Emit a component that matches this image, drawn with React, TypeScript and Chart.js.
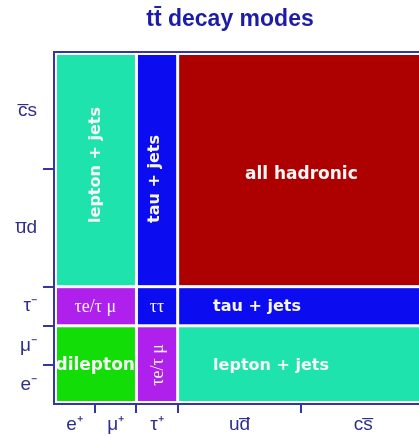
import React, { useEffect, useRef } from "react";
import { Chart, registerables } from "chart.js";

Chart.register(...registerables);

// Columns (t decay: W+ → e+, μ+, τ+, ud̄, cs̄) and rows (t̄ decay: W- → e-, μ-, τ-, ūd, c̄s)
const xTickValues = [0.5, 1, 1.5, 2, 2.5, 3, 4.5, 6, 7.5];
const xTickLabels = ["e\u207A", "", "\u03BC\u207A", "", "\u03C4\u207A", "", "ud\u0305", "", "cs\u0305"];
const yTickValues = [0.5, 1, 1.5, 2, 2.5, 3, 4.5, 6, 7.5];
const yTickLabels = ["e\u207B", "", "\u03BC\u207B", "", "\u03C4\u207B", "", "u\u0305d", "", "c\u0305s"];
const boundaryValues = [1, 2, 3, 6];

// Cells: extents in category units (each lepton = 1, each quark pair = 3 colour combos)
const cellX0 = [0, 2, 3, 0, 2, 3, 0, 2, 3];
const cellX1 = [2, 3, 9, 2, 3, 9, 2, 3, 9];
const cellY0 = [3, 3, 3, 2, 2, 2, 0, 0, 0];
const cellY1 = [9, 9, 9, 3, 3, 3, 2, 2, 2];
const cellNames = [
  "lepton + jets",
  "tau + jets",
  "all hadronic",
  "\u03C4e/\u03C4 \u03BC",
  "\u03C4\u03C4",
  "tau + jets",
  "dilepton",
  "\u03C4e/\u03C4 \u03BC",
  "lepton + jets",
];

// styles
const cellColors = ["#1ee3ac", "#0c0cf0", "#ad0000", "#b020ec", "#0c0cf0", "#0c0cf0", "#12dd06", "#b020ec", "#1ee3ac"];
const labelX = [1, 2.42, 6, 1, 2.5, 3.86, 1, 2.5, 3.86];
const labelY = [4.63, 4.63, 5.9, 2.5, 2.5, 2.52, 1, 1, 1];
const labelRot = [true, true, false, false, false, false, false, true, false];
const labelAlign: CanvasTextAlign[] = ["left", "left", "center", "center", "center", "left", "center", "center", "left"];
const labelFont = [
  "bold 16px 'DejaVu Sans'",
  "bold 16px 'DejaVu Sans'",
  "bold 17px 'DejaVu Sans'",
  "18px 'Liberation Serif'",
  "18px 'Liberation Serif'",
  "bold 16px 'DejaVu Sans'",
  "bold 17px 'DejaVu Sans'",
  "18px 'Liberation Serif'",
  "bold 16px 'DejaVu Sans'",
];

const AXIS_COLOR = "#3535a5";
const LABEL_COLOR = "#2e2e8c";

const cellPlugin = {
  id: "ttbarCells",
  beforeDatasetsDraw(chart: any) {
    const { ctx, chartArea, scales } = chart;
    const xs = scales.x;
    const ys = scales.y;
    ctx.save();
    for (let i = 0; i < cellX0.length; i++) {
      const g = 1.5;
      const l = xs.getPixelForValue(cellX0[i]) + (cellX0[i] === 0 ? 3 : g);
      const r = xs.getPixelForValue(cellX1[i]) - (cellX1[i] === 9 ? 3 : g);
      const t = ys.getPixelForValue(cellY1[i]) + (cellY1[i] === 9 ? 3 : g);
      const b = ys.getPixelForValue(cellY0[i]) - (cellY0[i] === 0 ? 3 : g);
      ctx.fillStyle = cellColors[i];
      ctx.fillRect(l, t, r - l, b - t);
    }
    // frame
    ctx.strokeStyle = AXIS_COLOR;
    ctx.lineWidth = 2;
    ctx.strokeRect(chartArea.left, chartArea.top, chartArea.right - chartArea.left, chartArea.bottom - chartArea.top);
    // labels
    ctx.fillStyle = "#f6f6f6";
    ctx.textBaseline = "middle";
    for (let i = 0; i < cellNames.length; i++) {
      const px = xs.getPixelForValue(labelX[i]);
      const py = ys.getPixelForValue(labelY[i]);
      ctx.save();
      ctx.font = labelFont[i];
      ctx.textAlign = labelAlign[i];
      ctx.translate(px, py);
      if (labelRot[i]) ctx.rotate(-Math.PI / 2);
      ctx.fillText(cellNames[i], 0, 1);
      ctx.restore();
    }
    ctx.restore();
  },
};

export default function App() {
  const ref = useRef<HTMLCanvasElement>(null);
  useEffect(() => {
    const gridColor = (c: any) =>
      c.tick && boundaryValues.includes(c.tick.value) ? AXIS_COLOR : "rgba(0,0,0,0)";
    const chart = new Chart(ref.current as HTMLCanvasElement, {
      type: "scatter",
      data: { datasets: [] },
      plugins: [cellPlugin],
      options: {
        animation: false,
        responsive: false,
        devicePixelRatio: 1,
        layout: { padding: 0 },
        plugins: {
          legend: { display: false },
          tooltip: { enabled: false },
          title: {
            display: true,
            text: "tt\u0304 decay modes",
            color: "#1c1ca8",
            font: { family: "'Liberation Sans'", size: 23, weight: "bold", lineHeight: 1.1 },
            padding: { top: 7, bottom: 19.7 },
          },
        },
        scales: {
          x: {
            type: "linear",
            min: 0,
            max: 9,
            afterBuildTicks: (s: any) => {
              s.ticks = xTickValues.map((v) => ({ value: v }));
            },
            afterFit: (s: any) => {
              s.height = 32;
            },
            border: { display: false },
            grid: { drawOnChartArea: false, drawTicks: true, tickLength: 9, lineWidth: 2, color: gridColor },
            ticks: {
              autoSkip: false,
              maxRotation: 0,
              padding: 0,
              color: LABEL_COLOR,
              font: { family: "'Liberation Sans'", size: 19 },
              callback: (v: any) => {
                const i = xTickValues.indexOf(Number(v));
                return i >= 0 ? xTickLabels[i] : "";
              },
            },
          },
          y: {
            type: "linear",
            min: 0,
            max: 9,
            afterBuildTicks: (s: any) => {
              s.ticks = yTickValues.map((v) => ({ value: v }));
            },
            afterFit: (s: any) => {
              s.width = 54;
            },
            border: { display: false },
            grid: { drawOnChartArea: false, drawTicks: true, tickLength: 11, lineWidth: 2, color: gridColor },
            ticks: {
              autoSkip: false,
              padding: 6,
              color: LABEL_COLOR,
              font: { family: "'Liberation Sans'", size: 19 },
              callback: (v: any) => {
                const i = yTickValues.indexOf(Number(v));
                return i >= 0 ? yTickLabels[i] : "";
              },
            },
          },
          yRight: {
            type: "linear",
            position: "right",
            min: 0,
            max: 9,
            afterFit: (s: any) => {
              s.width = 35;
            },
            border: { display: false },
            grid: { display: false },
            ticks: { display: false },
          },
        },
      } as any,
    });
    return () => chart.destroy();
  }, []);
  return (
    <div
      style={{
        position: "absolute",
        left: 0,
        top: 0,
        width: 419,
        height: 436,
        overflow: "hidden",
        background: "#ffffff",
      }}
    >
      <canvas ref={ref} width={460} height={436} style={{ display: "block" }} />
    </div>
  );
}
